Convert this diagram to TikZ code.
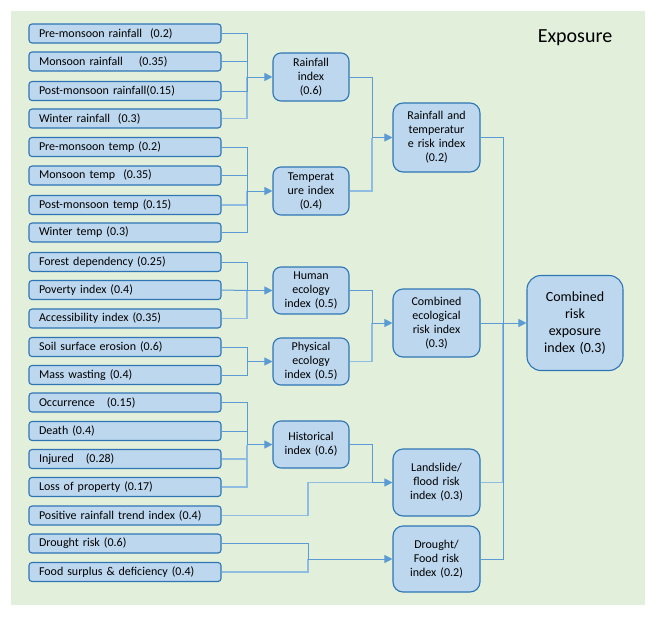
\documentclass[tikz,border=0pt]{standalone}
\usepackage{fontspec}
\setmainfont{Carlito}
\usetikzlibrary{arrows.meta,calc}
\definecolor{bgc}{HTML}{E2EFDA}
\definecolor{boxfill}{HTML}{BDD7EE}
\definecolor{boxedge}{HTML}{2E75B6}
\definecolor{linec}{HTML}{5B9BD5}
\definecolor{lightc}{HTML}{8FBCE3}
\tikzset{
  leaf/.style={draw=boxedge, fill=boxfill, line width=1.1pt, rounded corners=3pt,
    minimum height=19pt, text width=172pt, inner xsep=10pt, inner ysep=0pt, align=left,
    font=\fontsize{12}{13}\selectfont},
  midbox/.style={draw=boxedge, fill=boxfill, line width=1.1pt, rounded corners=8pt,
    minimum width=76pt, text width=72pt, inner sep=0pt, align=center,
    font=\fontsize{12}{14}\selectfont},
  riskbox/.style={draw=boxedge, fill=boxfill, line width=1.1pt, rounded corners=10pt,
    minimum width=87pt, text width=82pt, inner sep=0pt, align=center,
    font=\fontsize{12}{14}\selectfont},
  topbox/.style={draw=boxedge, fill=boxfill, line width=1.1pt, rounded corners=14pt,
    minimum width=96pt, minimum height=95pt, text width=92pt, inner sep=0pt, align=center,
    font=\fontsize{14}{17}\selectfont},
  conn/.style={draw=linec, line width=1pt},
  lconn/.style={draw=lightc, line width=1.5pt},
  arr/.style={draw=linec, line width=1pt, -{Triangle[length=8pt,width=8pt]}},
}
\begin{document}
\begin{tikzpicture}[x=1pt,y=-1pt]
\useasboundingbox (0,0) rectangle (656,616);
\fill[bgc] (11,11) rectangle (645,605);
\node[font=\fontsize{20}{24}\selectfont] (title) at (575,38) {Exposure};
% leaf nodes
\node[leaf] (l1) at (125,33.5) {Pre-monsoon rainfall\ \ (0.2)};
\node[leaf] (l2) at (125,61.5) {Monsoon rainfall\ \ \ \ (0.35)};
\node[leaf] (l3) at (125,91) {Post-monsoon rainfall(0.15)};
\node[leaf] (l4) at (125,118.5) {Winter rainfall\ \ (0.3)};
\node[leaf] (l5) at (125,147) {Pre-monsoon temp (0.2)};
\node[leaf] (l6) at (125,175.5) {Monsoon temp\ \ (0.35)};
\node[leaf] (l7) at (125,205) {Post-monsoon temp (0.15)};
\node[leaf] (l8) at (125,232.5) {Winter temp (0.3)};
\node[leaf] (l9) at (125,262) {Forest dependency (0.25)};
\node[leaf] (l10) at (125,290) {Poverty index (0.4)};
\node[leaf] (l11) at (125,318.5) {Accessibility index (0.35)};
\node[leaf] (l12) at (125,347) {Soil surface erosion (0.6)};
\node[leaf] (l13) at (125,375) {Mass wasting (0.4)};
\node[leaf] (l14) at (125,402.5) {Occurrence\ \ \ (0.15)};
\node[leaf] (l15) at (125,431) {Death (0.4)};
\node[leaf] (l16) at (125,459) {Injured\ \ \ (0.28)};
\node[leaf] (l17) at (125,487) {Loss of property (0.17)};
\node[leaf] (l18) at (125,515.5) {Positive rainfall trend index (0.4)};
\node[leaf] (l19) at (125,543.5) {Drought risk (0.6)};
\node[leaf] (l20) at (125,572) {Food surplus \& deficiency (0.4)};
% middle nodes
\node[midbox, minimum height=48pt] (ri) at (311,77) {Rainfall\\index\\(0.6)};
\node[midbox, minimum height=48pt] (ti) at (311,191) {Temperat\\ure index\\(0.4)};
\node[midbox, minimum height=47pt] (he) at (311,290.5) {Human\\ecology\\index (0.5)};
\node[midbox, minimum height=47pt] (pe) at (311,361.5) {Physical\\ecology\\index (0.5)};
\node[midbox, minimum height=47pt] (hi) at (311,444.5) {Historical\\index (0.6)};
% risk nodes
\node[riskbox, minimum height=69pt] (rt) at (436.5,137.5) {Rainfall and\\temperatur\\e risk index\\(0.2)};
\node[riskbox, minimum height=68pt] (ce) at (436.5,323) {Combined\\ecological\\risk index\\(0.3)};
\node[riskbox, minimum height=67pt] (lf) at (436.5,482.5) {Landslide/\\flood risk\\index (0.3)};
\node[riskbox, minimum height=66pt] (df) at (436.5,559) {Drought/\\Food risk\\index (0.2)};
\node[topbox] (cre) at (575,323) {Combined\\risk\\exposure\\index (0.3)};
% bus coordinates
\coordinate (b1) at (247,77);
\coordinate (b2) at (247,191);
\coordinate (b3) at (247,290.5);
\coordinate (b4) at (247,361.5);
\coordinate (b5) at (247,444.5);
\coordinate (b6) at (372,137.5);
\coordinate (b7) at (372,323);
\coordinate (b8) at (372,482.5);
\coordinate (b9) at (308,559);
\coordinate (b10) at (503,323);
% light connectors first
\draw[lconn] (l4.east) -| (b1);
\draw[lconn] (l7.east) -| (b2);
\draw[lconn] (l11.east) -| (b3);
\draw[lconn] (l16.east) -| (b5);
\draw[lconn] (l17.east) -| (b5);
\draw[lconn] (ti.east) -| (b6);
\draw[lconn] (pe.east) -| (b7);
\draw[lconn] (l18.east) -- (l18.east -| b9) |- (b8);
\draw[lconn] (l20.east) -| (b9);
\draw[lconn] (lf.east) -| (b10);
% rainfall
\draw[conn] (l1.east) -| (b1);
\draw[conn] (l2.east) -| (b1);
\draw[conn] (l3.east) -| (b1);
\draw[arr] (b1) -- (ri.west);
% temperature
\draw[conn] (l5.east) -| (b2);
\draw[conn] (l6.east) -| (b2);
\draw[conn] (l8.east) -| (b2);
\draw[arr] (b2) -- (ti.west);
% human ecology
\draw[conn] (l9.east) -| (b3);
\draw[conn] (l10.east) -- (b3);
\draw[arr] (b3) -- (he.west);
% physical ecology
\draw[conn] (l12.east) -| (b4);
\draw[conn] (l13.east) -| (b4);
\draw[arr] (b4) -- (pe.west);
% historical
\draw[conn] (l14.east) -| (b5);
\draw[conn] (l15.east) -| (b5);
\draw[arr] (b5) -- (hi.west);
% rainfall & temperature risk
\draw[conn] (ri.east) -| (b6);
\draw[arr] (b6) -- (rt.west);
% combined ecological
\draw[conn] (he.east) -| (b7);
\draw[arr] (b7) -- (ce.west);
% landslide / flood
\draw[conn] (hi.east) -| (b8);
\draw[arr] (b8) -- (lf.west);
% drought / food
\draw[conn] (l19.east) -| (b9);
\draw[arr] (b9) -- (df.west);
% combined exposure
\draw[conn] (rt.east) -| (b10);
\draw[conn] (df.east) -| (b10);
\draw[arr] (ce.east) -- (cre.west);
\end{tikzpicture}
\end{document}
